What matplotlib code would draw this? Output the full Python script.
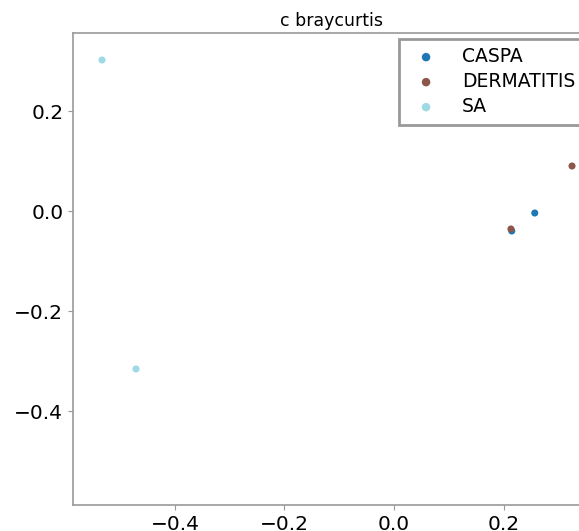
import matplotlib
matplotlib.use("Agg")
import matplotlib.pyplot as plt

groups = ["CASPA", "DERMATITIS", "SA"]
colors = ["#1f77b4", "#8c564b", "#9edae5"]
caspa_x = [0.257, 0.215]
caspa_y = [-0.004, -0.040]
derm_x = [0.2135, 0.325]
derm_y = [-0.036, 0.090]
sa_x = [-0.533, -0.471]
sa_y = [0.302, -0.316]

xs = [caspa_x, derm_x, sa_x]
ys = [caspa_y, derm_y, sa_y]

fig = plt.figure(figsize=(5.79, 5.31), dpi=100)
ax = fig.add_axes([73/579, 26/531, 516/579, 472/531])
for g, c, x, y in zip(groups, colors, xs, ys):
    ax.scatter(x, y, s=26, color=c, label=g, edgecolors="none")

ax.set_xlim(-0.586, 0.356)
ax.set_ylim(-0.588, 0.356)
ax.set_xticks([-0.4, -0.2, 0.0, 0.2])
ax.set_yticks([-0.4, -0.2, 0.0, 0.2])
ax.tick_params(labelsize=14.5, color="#999999")
for s in ax.spines.values():
    s.set_color("#999999")
    s.set_linewidth(1.2)
ax.set_title("c braycurtis", fontsize=12.5, pad=5)
leg = ax.legend(loc="upper right", fontsize=13.5, fancybox=False, framealpha=1,
                borderaxespad=0.3, handletextpad=0.9, borderpad=0.45,
                labelspacing=0.32, markerscale=1.2)
leg.get_frame().set_edgecolor("#999999")
leg.get_frame().set_linewidth(2)
fig.savefig("out.png", dpi=100)
